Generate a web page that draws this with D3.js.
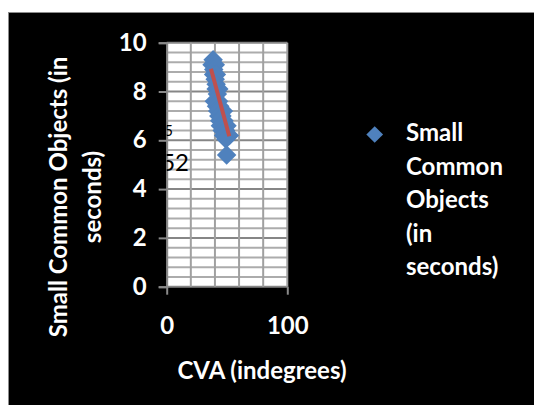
<!DOCTYPE html>
<html>
<head>
<meta charset="utf-8">
<script src="https://cdn.jsdelivr.net/npm/d3@7"></script>
<style>
  body { margin: 0; background: #fff; }
  text { font-family: Lato, "Open Sans", sans-serif; }
</style>
</head>
<body>
<div id="chart"></div>
<script>
// data
const cvaValues = [38.5, 37.6, 40.3, 39.0, 38.9, 41.2, 40.2, 41.0, 41.0, 43.2, 42.0, 39.5, 43.0, 41.3, 44.0,
    42.3, 47.0, 43.2, 45.8, 44.0, 47.5, 44.5, 50.0, 46.0, 48.8, 47.2, 52.0, 49.0, 49.7];
const timeValues = [9.3, 9.1, 9.1, 8.9, 8.7, 8.7, 8.5, 8.3, 8.1, 8.1, 7.9, 7.6, 7.6, 7.4, 7.4,
    7.2, 7.2, 7.0, 7.0, 6.8, 6.8, 6.6, 6.6, 6.4, 6.4, 6.2, 6.2, 6.05, 5.4];
const trendX = [36.7, 51.9];
const trendY = [8.93, 6.17];
const yTicks = [0, 2, 4, 6, 8, 10];
const xTicks = [0, 100];
const seriesName = ["Small", "Common", "Objects", "(in", "seconds)"];
const trendLabel = ["y = -0.18x + 15", "R\u00b2 = 0.52"];

const width = 534, height = 405;
const plot = { left: 166.7, right: 287.3, top: 42.7, bottom: 286.7 };

let svg = d3.select('#chart')
    .append('svg')
    .attr('width', width)
    .attr('height', height);

// black chart area with thin grey border
svg.append('rect')
    .attr('x', 8.5).attr('y', 12.5)
    .attr('width', 540).attr('height', 400)
    .attr('fill', '#000')
    .attr('stroke', '#8c8c8c')
    .attr('stroke-width', 1);

let xScale = d3.scaleLinear().domain([0, 100]).range([plot.left, plot.right]);
let yScale = d3.scaleLinear().domain([0, 10]).range([plot.bottom, plot.top]);

// plot background
svg.append('rect')
    .attr('x', plot.left).attr('y', plot.top)
    .attr('width', plot.right - plot.left)
    .attr('height', plot.bottom - plot.top)
    .attr('fill', '#fff');

// gridlines
let minorY = d3.range(0, 10.01, 0.4);
svg.append('g').selectAll('line')
    .data(minorY)
    .enter().append('line')
    .attr('x1', plot.left).attr('x2', plot.right)
    .attr('y1', d => yScale(d)).attr('y2', d => yScale(d))
    .attr('stroke', d => (Math.abs(d / 2 - Math.round(d / 2)) < 0.01) ? '#868686' : '#acacac')
    .attr('stroke-width', 2);

svg.append('g').selectAll('line')
    .data(d3.range(20, 101, 20))
    .enter().append('line')
    .attr('x1', d => xScale(d)).attr('x2', d => xScale(d))
    .attr('y1', plot.top).attr('y2', plot.bottom)
    .attr('stroke', '#a0a0a0')
    .attr('stroke-width', 2);

// axes
let yAxis = svg.append('g')
    .attr('transform', `translate(${plot.left}, 0)`)
    .call(d3.axisLeft(yScale).tickValues(yTicks).tickSize(8).tickPadding(12));
let xAxis = svg.append('g')
    .attr('transform', `translate(0, ${plot.bottom})`)
    .call(d3.axisBottom(xScale).tickValues(xTicks).tickSize(8).tickPadding(22));

[yAxis, xAxis].forEach(ax => {
    ax.select('.domain').attr('stroke', '#8a8a8a').attr('stroke-width', 2);
    ax.selectAll('.tick line').attr('stroke', '#8a8a8a').attr('stroke-width', 2);
    ax.selectAll('.tick text')
        .attr('fill', '#fff')
        .style('font-family', 'Lato, sans-serif')
        .style('font-size', '24px')
        .style('font-weight', 'bold');
});
xAxis.select('.domain').remove();

// trendline label, clipped to the plot area
svg.append('clipPath').attr('id', 'plotClip')
    .append('rect')
    .attr('x', plot.left).attr('y', plot.top)
    .attr('width', plot.right - plot.left)
    .attr('height', plot.bottom - plot.top);

let lbl = svg.append('g').attr('clip-path', 'url(#plotClip)');
lbl.append('text')
    .attr('x', 173).attr('y', 136)
    .attr('text-anchor', 'end')
    .style('font-size', '15px')
    .attr('fill', '#000')
    .text(trendLabel[0]);
lbl.append('text')
    .attr('x', 189).attr('y', 171)
    .attr('text-anchor', 'end')
    .style('font-size', '24px')
    .attr('fill', '#000')
    .text(trendLabel[1]);

// points
let points = cvaValues.map((x, i) => ({ x: x, y: timeValues[i] }));
let diamond = d3.symbol().type(d3.symbolSquare).size(190);
svg.append('g').selectAll('path')
    .data(points)
    .enter().append('path')
    .attr('d', diamond)
    .attr('transform', d => `translate(${xScale(d.x)}, ${yScale(d.y)}) rotate(45)`)
    .attr('fill', '#4f81bd');

// linear trendline
let trend = trendX.map((x, i) => ({ x: x, y: trendY[i] }));
svg.append('path')
    .datum(trend)
    .attr('fill', 'none')
    .attr('stroke', '#c0504d')
    .attr('stroke-width', 4)
    .attr('d', d3.line().x(d => xScale(d.x)).y(d => yScale(d.y)));

// axis titles
svg.append('text')
    .attr('x', 262).attr('y', 379)
    .attr('text-anchor', 'middle')
    .attr('fill', '#fff')
    .style('font-size', '24px')
    .style('font-weight', 'bold')
    .text('CVA (indegrees)');

let yTitle = svg.append('text')
    .attr('transform', 'translate(0, 197) rotate(-90)')
    .attr('text-anchor', 'middle')
    .attr('fill', '#fff')
    .style('font-size', '24px')
    .style('font-weight', 'bold');
yTitle.append('tspan').attr('x', 0).attr('y', 67).text('Small Common Objects (in');
yTitle.append('tspan').attr('x', 0).attr('y', 101).text('seconds)');

// legend
svg.append('path')
    .attr('d', d3.symbol().type(d3.symbolSquare).size(140))
    .attr('transform', 'translate(374.7, 134.5) rotate(45)')
    .attr('fill', '#4f81bd');

svg.append('g').selectAll('text')
    .data(seriesName)
    .enter().append('text')
    .attr('x', 406)
    .attr('y', (d, i) => 141 + i * 33.6)
    .attr('fill', '#fff')
    .style('font-size', '24px')
    .style('font-weight', 'bold')
    .text(d => d);
</script>
</body>
</html>
